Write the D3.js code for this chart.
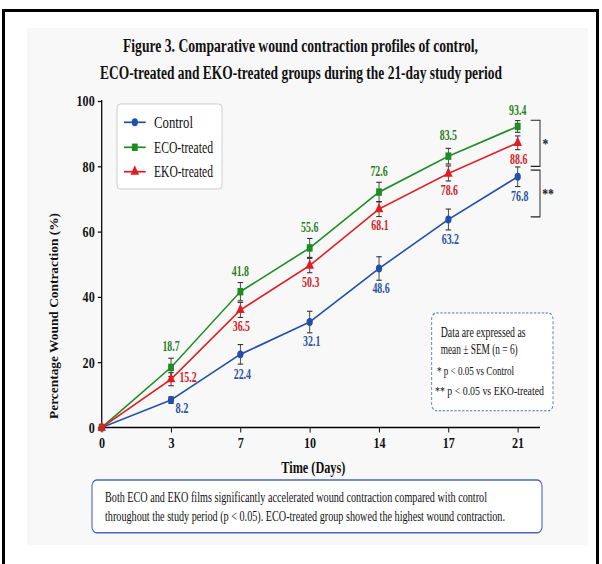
<!DOCTYPE html>
<html>
<head>
<meta charset="utf-8">
<script src="https://cdn.jsdelivr.net/npm/d3@7"></script>
<style>
  body { margin: 0; background: #fff; }
  svg { display: block; font-family: "Liberation Serif", "DejaVu Serif", serif; }
</style>
</head>
<body>
<svg id="chart" width="602" height="564"></svg>
<script>
// data
var days = [0, 3, 7, 10, 14, 17, 21];
var controlMean = [0, 8.4, 22.4, 32.3, 48.7, 63.7, 76.8];
var ecoMean = [0, 18.4, 41.6, 55.0, 72.1, 83.1, 92.2];
var ekoMean = [0, 14.8, 36.0, 49.6, 66.9, 77.8, 87.2];
var controlSem = [0, 1.0, 3.0, 3.3, 3.6, 3.2, 3.0];
var ecoSem = [0, 2.8, 2.8, 2.9, 3.0, 2.4, 1.8];
var ekoSem = [0, 2.0, 2.3, 2.2, 2.3, 2.3, 2.1];
var controlLabels = ["", "8.2", "22.4", "32.1", "48.6", "63.2", "76.8"];
var ecoLabels = ["", "18.7", "41.8", "55.6", "72.6", "83.5", "93.4"];
var ekoLabels = ["", "15.2", "36.5", "50.3", "68.1", "78.6", "88.6"];
var yTicks = [0, 20, 40, 60, 80, 100];
var groupNames = ["Control", "ECO-treated", "EKO-treated"];

// the original picture is squeezed horizontally, so draw wide and scale x
var S = 0.78;
function vx(x) { return x / S; }

var svg = d3.select("#chart");

// outer frame + light panel
svg.append("rect").attr("x", 27).attr("y", 28).attr("width", 561).attr("height", 517)
    .attr("fill", "#f8f8f8");
svg.append("rect").attr("x", 3.5).attr("y", 10.5).attr("width", 594).attr("height", 570)
    .attr("fill", "none").attr("stroke", "#000").attr("stroke-width", 3);

var root = svg.append("g").attr("transform", "scale(" + S + ",1)");

var x = d3.scalePoint().domain(days).range([vx(101.7), vx(517.7)]);
var y = d3.scaleLinear().domain([0, 100]).range([427.5, 101]);

// title
var title = root.append("text").attr("text-anchor", "middle")
    .attr("font-size", 19.5).attr("font-weight", "bold").attr("fill", "#111");
title.append("tspan").attr("x", vx(300.5)).attr("y", 52)
    .attr("textLength", vx(355)).attr("lengthAdjust", "spacingAndGlyphs")
    .text("Figure 3. Comparative wound contraction profiles of control,");
title.append("tspan").attr("x", vx(301)).attr("y", 79)
    .attr("textLength", vx(402)).attr("lengthAdjust", "spacingAndGlyphs")
    .text("ECO-treated and EKO-treated groups during the 21-day study period");

// axes
var yaxis = d3.axisLeft(y).tickValues(yTicks).tickSize(5).tickPadding(4).tickSizeOuter(0);
var gy = root.append("g").attr("transform", "translate(" + vx(101.7) + ",0)").call(yaxis);
gy.select(".domain").remove();
root.append("line").attr("x1", vx(101.7)).attr("x2", vx(101.7)).attr("y1", 100).attr("y2", 427.5)
    .attr("stroke", "#000").attr("stroke-width", 1.6);

var xaxis = d3.axisBottom(x).tickSize(5).tickPadding(5).tickSizeOuter(0);
var gx = root.append("g").attr("transform", "translate(0,427.5)").call(xaxis);
gx.select(".domain").remove();
root.append("line").attr("x1", vx(101.7)).attr("x2", vx(540)).attr("y1", 427.5).attr("y2", 427.5)
    .attr("stroke", "#000").attr("stroke-width", 1.6);

root.selectAll(".tick text").attr("font-size", 15.5).attr("font-weight", "bold")
    .attr("font-family", "Liberation Serif").attr("fill", "#111");
root.selectAll(".tick line").attr("stroke", "#000").attr("stroke-width", 1.2);

root.append("text").attr("x", vx(313.3)).attr("y", 473.5).attr("text-anchor", "middle")
    .attr("font-size", 16.5).attr("font-weight", "bold").attr("fill", "#111")
    .attr("textLength", vx(64)).attr("lengthAdjust", "spacingAndGlyphs").text("Time (Days)");

root.append("text").attr("transform", "translate(" + vx(58) + ",316) rotate(-90)")
    .attr("text-anchor", "middle").attr("font-size", 17).attr("font-weight", "bold")
    .attr("fill", "#111").attr("textLength", 206).attr("lengthAdjust", "spacingAndGlyphs")
    .text("Percentage Wound Contraction (%)");

// series
var series = [
  { name: groupNames[0], mean: controlMean, sem: controlSem, labels: controlLabels,
    color: "#2150a6", text: "#2a52a3", shape: d3.symbolCircle },
  { name: groupNames[1], mean: ecoMean, sem: ecoSem, labels: ecoLabels,
    color: "#1e8c23", text: "#2c7d1c", shape: d3.symbolSquare },
  { name: groupNames[2], mean: ekoMean, sem: ekoSem, labels: ekoLabels,
    color: "#e11c22", text: "#d11b1f", shape: d3.symbolTriangle }
];

var line = d3.line().x(function(d) { return x(d.day); }).y(function(d) { return y(d.v); });

function symSize(shape) {
  return shape === d3.symbolCircle ? 50 : (shape === d3.symbolSquare ? 56 : 52);
}

series.forEach(function(s) {
  var pts = days.map(function(d, i) { return { day: d, v: s.mean[i], e: s.sem[i], lab: s.labels[i], i: i }; });
  root.append("path").datum(pts).attr("d", line).attr("fill", "none")
      .attr("stroke", s.color).attr("stroke-width", 1.7);

  var eb = root.append("g").attr("stroke", "#333").attr("stroke-width", 1.1);
  pts.filter(function(p) { return p.e > 0; }).forEach(function(p) {
    var cx = x(p.day);
    eb.append("line").attr("x1", cx).attr("x2", cx).attr("y1", y(p.v - p.e)).attr("y2", y(p.v + p.e));
    eb.append("line").attr("x1", cx - 3.5).attr("x2", cx + 3.5).attr("y1", y(p.v - p.e)).attr("y2", y(p.v - p.e));
    eb.append("line").attr("x1", cx - 3.5).attr("x2", cx + 3.5).attr("y1", y(p.v + p.e)).attr("y2", y(p.v + p.e));
  });

  root.selectAll(null).data(pts).enter().append("path")
      .attr("d", d3.symbol().type(s.shape).size(symSize(s.shape)))
      .attr("transform", function(p) { return "translate(" + x(p.day) + "," + y(p.v) + ")"; })
      .attr("fill", s.color);
});

// value labels
function labelPos(si, i) {
  if (si === 0) return i === 1 ? [11, 8] : [2, 19.5];
  if (si === 1) return i === 6 ? [0, -16] : [0, -21];
  return i === 1 ? [17, -2] : [1, 16.5];
}
series.forEach(function(s, si) {
  days.forEach(function(d, i) {
    if (!s.labels[i]) return;
    var off = labelPos(si, i);
    root.append("text").attr("x", x(d) + vx(off[0])).attr("y", y(s.mean[i]) + off[1])
        .attr("dy", "0.35em").attr("text-anchor", "middle")
        .attr("font-size", 14).attr("font-weight", "bold").attr("fill", s.text)
        .attr("textLength", vx(s.labels[i].length === 3 ? 13 : 17.3)).attr("lengthAdjust", "spacingAndGlyphs")
        .text(s.labels[i]);
  });
});

// significance brackets
function bracket(top, bottom, mark, mx) {
  var g = root.append("g").attr("stroke", "#222").attr("stroke-width", 1.2).attr("fill", "none");
  g.append("path").attr("d", "M" + vx(530.7) + "," + y(top) + "H" + vx(540) + "V" + y(bottom) + "H" + vx(530.7));
  root.append("text").attr("x", vx(mx)).attr("y", (y(top) + y(bottom)) / 2).attr("dy", "0.35em")
      .attr("text-anchor", "middle").attr("font-size", 15).attr("font-weight", "bold")
      .attr("fill", "#222").text(mark);
}
bracket(94.1, 80.0, "*", 545.5);
bracket(78.8, 64.5, "**", 548);

// legend
var lg = root.append("g");
lg.append("rect").attr("x", vx(117)).attr("y", 104).attr("width", vx(222) - vx(117)).attr("height", 85)
    .attr("rx", 4).attr("fill", "#fff").attr("stroke", "#c8c8c8").attr("stroke-width", 1);
var legendY = [122.3, 147.3, 171.7];
series.forEach(function(s, i) {
  lg.append("line").attr("x1", vx(124)).attr("x2", vx(145.7)).attr("y1", legendY[i]).attr("y2", legendY[i])
      .attr("stroke", s.color).attr("stroke-width", 1.7);
  lg.append("path").attr("d", d3.symbol().type(s.shape).size(symSize(s.shape)))
      .attr("transform", "translate(" + vx(134.8) + "," + legendY[i] + ")").attr("fill", s.color);
  lg.append("text").attr("x", vx(154)).attr("y", legendY[i]).attr("dy", "0.35em")
      .attr("font-size", 16).attr("fill", "#111")
      .attr("textLength", vx([39, 59, 59][i])).attr("lengthAdjust", "spacingAndGlyphs")
      .text(s.name);
});

// note box
var nb = root.append("g");
nb.append("rect").attr("x", vx(431.7)).attr("y", 313).attr("width", vx(553) - vx(431.7)).attr("height", 97.7)
    .attr("rx", 6).attr("fill", "#fff").attr("stroke", "#4f6fc2").attr("stroke-width", 1.1)
    .attr("stroke-dasharray", "3,2");
var noteLines = ["Data are expressed as", "mean \u00b1 SEM (n = 6)", "* p < 0.05 vs Control", "** p < 0.05 vs EKO-treated"];
var noteX = [440.7, 440.7, 437, 435];
var noteY = [331.7, 349.3, 370.7, 390.7];
var noteW = [85, 77, 77, 109];
noteLines.forEach(function(t, i) {
  nb.append("text").attr("x", vx(noteX[i])).attr("y", noteY[i]).attr("dy", "0.35em")
      .attr("font-size", i < 2 ? 14 : 13.5).attr("fill", "#111")
      .attr("textLength", vx(noteW[i])).attr("lengthAdjust", "spacingAndGlyphs").text(t);
});

// caption box
var cb = root.append("g");
cb.append("rect").attr("x", vx(92)).attr("y", 480).attr("width", vx(542) - vx(92)).attr("height", 52.7)
    .attr("rx", 6).attr("fill", "#fff").attr("stroke", "#4a68b8").attr("stroke-width", 1.4);
var captionLines = [
  "Both ECO and EKO films significantly accelerated wound contraction compared with control",
  "throughout the study period (p < 0.05). ECO-treated group showed the highest wound contraction."
];
var captionW = [382, 400];
captionLines.forEach(function(t, i) {
  cb.append("text").attr("x", vx(105)).attr("y", [497.3, 516][i]).attr("dy", "0.35em")
      .attr("font-size", 14).attr("fill", "#111")
      .attr("textLength", vx(captionW[i])).attr("lengthAdjust", "spacingAndGlyphs").text(t);
});
</script>
</body>
</html>
